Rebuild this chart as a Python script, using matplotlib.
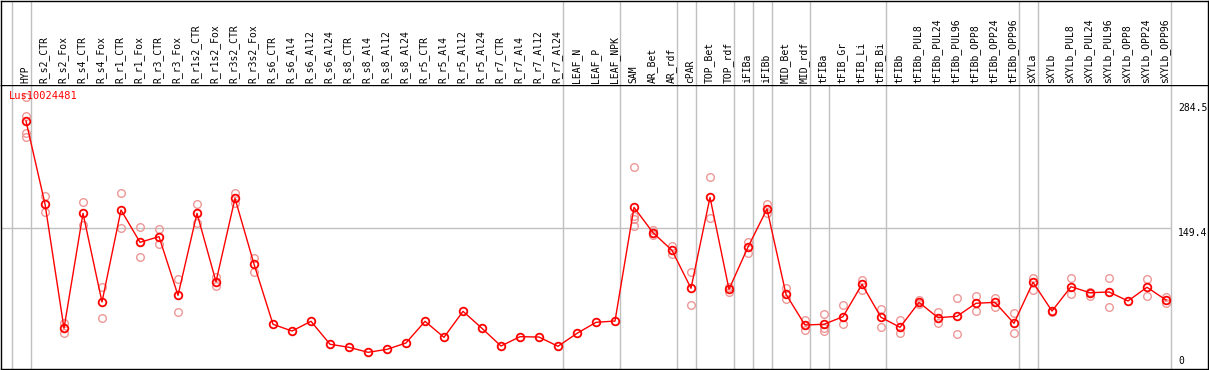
import matplotlib
matplotlib.use("Agg")
import matplotlib.pyplot as plt
from matplotlib.transforms import blended_transform_factory

gene = "Lus10024481"

samples = ["HYP", "R_s2_CTR", "R_s2_Fox", "R_s4_CTR", "R_s4_Fox", "R_r1_CTR", "R_r1_Fox",
           "R_r3_CTR", "R_r3_Fox", "R_r1s2_CTR", "R_r1s2_Fox", "R_r3s2_CTR", "R_r3s2_Fox",
           "R_s6_CTR", "R_s6_Al4", "R_s6_Al12", "R_s6_Al24", "R_s8_CTR", "R_s8_Al4",
           "R_s8_Al12", "R_s8_Al24", "R_r5_CTR", "R_r5_Al4", "R_r5_Al12", "R_r5_Al24",
           "R_r7_CTR", "R_r7_Al4", "R_r7_Al12", "R_r7_Al24", "LEAF_N", "LEAF_P", "LEAF_NPK",
           "SAM", "AR_Bet", "AR_rdf", "cPAR", "TOP_Bet", "TOP_rdf", "iFIBa", "iFIBb",
           "MID_Bet", "MID_rdf", "tFIBa", "tFIB_Gr", "tFIB_Li", "tFIB_Bi", "tFIBb",
           "tFIBb_PUL8", "tFIBb_PUL24", "tFIBb_PUL96", "tFIBb_OPP8", "tFIBb_OPP24",
           "tFIBb_OPP96", "sXYLa", "sXYLb", "sXYLb_PUL8", "sXYLb_PUL24", "sXYLb_PUL96",
           "sXYLb_OPP8", "sXYLb_OPP24", "sXYLb_OPP96"]

# mean expression per sample
means = [264.8, 175.1, 40.7, 165.0, 69.2, 168.6, 133.7, 139.8, 76.4, 165.0, 91.1, 181.2,
         110.2, 45.1, 37.8, 48.3, 23.5, 20.2, 14.8, 18.0, 24.9, 48.3, 31.0, 59.1, 40.7,
         21.6, 31.7, 31.3, 21.3, 35.3, 47.2, 48.6, 171.5, 144.1, 125.0, 84.0, 182.3, 82.9,
         128.6, 169.7, 77.5, 44.3, 45.1, 53.3, 88.3, 52.6, 41.8, 68.8, 52.2, 53.7, 67.8,
         68.8, 46.1, 90.5, 59.4, 85.7, 79.2, 80.0, 70.3, 85.1, 71.3]

# single replicates (only the ones that show apart from the mean)
reps = [[290.7, 270.2, 251.8, 247.5], [183.7, 166.8], [46.1, 36.0], [176.9, 152.4],
        [85.7, 51.6], [186.7, 148.8], [149.9, 117.5], [147.7, 131.9], [93.7, 58.0],
        [174.8, 154.9], [96.5, 86.5], [187.3, 175.8], [116.4, 101.9],
        [], [], [], [], [], [], [], [], [], [], [], [], [], [], [], [], [], [], [],
        [214.8, 162.6, 159.4, 151.3], [147.0, 141.6], [129.7, 120.7], [101.9, 65.6],
        [203.9, 159.6], [85.7, 79.7], [134.3, 121.8], [175.1, 165.0], [84.0, 72.1],
        [49.7, 38.9], [56.2, 38.2, 40.8], [65.9, 45.1], [92.9, 82.1], [61.3, 41.8],
        [49.7, 35.3], [71.3, 66.5], [58.7, 46.1], [73.2, 34.3], [75.7, 59.8],
        [73.2, 64.1], [57.0, 35.3], [94.8, 82.1], [58.7], [94.8, 77.5], [80.2, 75.7],
        [94.8, 64.1], [], [93.7, 75.7], [74.9, 67.8]]

# group boundaries (line drawn after these sample indices)
group_ends = [-1, 0, 28, 31, 34, 35, 37, 38, 39, 41, 42, 45, 52, 53, 60]
y_ticks = [0, 149.4, 284.5]

W, H = 1209, 370
fig = plt.figure(figsize=(W / 100, H / 100), dpi=100)
ax = fig.add_axes([1 / W, 1 / H, 1207 / W, 284 / H])
hdr = fig.add_axes([1 / W, 285 / H, 1207 / W, 84 / H])

xlim = (-25 / 19, 1182 / 19)
for a in (ax, hdr):
    a.set_xlim(xlim)
    a.set_xticks([])
    a.set_yticks([])
    for s in a.spines.values():
        s.set_linewidth(1.0)
        s.set_color("black")
hdr.spines["bottom"].set_visible(False)
ax.set_ylim(-3.24, 303.7)

grey = "#c0c0c0"
for k in group_ends:
    ax.axvline(k + 0.24, color=grey, lw=1, zorder=0)
    if k != 42:
        hdr.axvline(k + 0.24, color=grey, lw=1, zorder=0)
ax.hlines(149.4, xlim[0], 60.24, color=grey, lw=1, zorder=0)

x = list(range(len(samples)))
for i, r in enumerate(reps):
    if r:
        ax.plot([i] * len(r), r, "o", ms=5.5, mfc="none", mec="#ee9797", mew=1.0, zorder=2)
ax.plot(x, means, "-", color="red", lw=1.0, zorder=3)
ax.plot(x, means, "o", ms=5.5, mfc="none", mec="red", mew=1.3, zorder=4)

mono = "DejaVu Sans Mono"
tr = blended_transform_factory(hdr.transData, fig.transFigure)
for i, name in enumerate(samples):
    hdr.text(i - 0.05, (H - 83) / H, name, rotation=90, ha="center", va="bottom",
             fontsize=7, family=mono, transform=tr)

tx = (1178 - 26) / 19
ax.text(tx, 284.5, "284.5", ha="left", va="top", fontsize=7, family=mono)
ax.text(tx, 149.4, "149.4", ha="left", va="top", fontsize=7, family=mono)
ax.text(tx, 0, "0", ha="left", va="bottom", fontsize=7, family=mono)

fig.text(9 / W, (H - 91) / H, gene, color="red", ha="left", va="top", fontsize=7.5, family=mono)

fig.savefig("out.png", dpi=100)
